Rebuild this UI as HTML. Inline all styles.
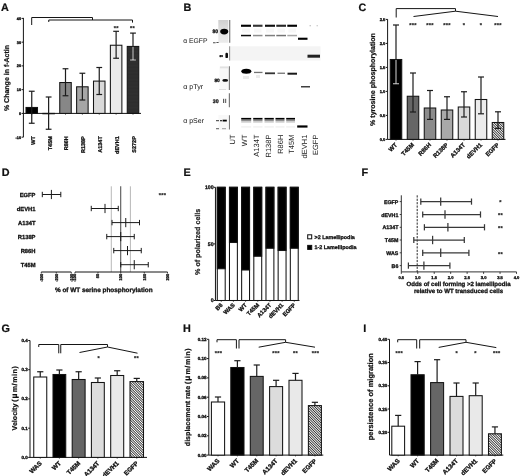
<!DOCTYPE html>
<html><head><meta charset="utf-8"><title>Figure</title>
<style>
html,body{margin:0;padding:0;background:#fff;}
body{width:520px;height:476px;overflow:hidden;font-family:"Liberation Sans",sans-serif;}
svg{display:block;filter:blur(0.35px);}
svg text{font-family:"Liberation Sans",sans-serif;text-rendering:geometricPrecision;}
</style></head><body>
<svg width="520" height="476" viewBox="0 0 520 476">
<defs>
<pattern id="hatch" width="1.77" height="1.77" patternUnits="userSpaceOnUse" patternTransform="rotate(-45)">
<rect width="1.77" height="1.77" fill="#fff"/><rect x="0" y="0" width="0.85" height="1.77" fill="#2c2c2c"/></pattern>
<pattern id="dots" width="1.4" height="1.4" patternUnits="userSpaceOnUse">
<rect width="1.4" height="1.4" fill="#2a2a2a"/><circle cx="0.7" cy="0.7" r="0.22" fill="#777"/></pattern>
<linearGradient id="lg1" x1="0" y1="0" x2="0" y2="1"><stop offset="0" stop-color="#cfcfcf"/><stop offset="0.5" stop-color="#e2e2e2"/><stop offset="1" stop-color="#ececec"/></linearGradient>
<filter id="b1" x="-20%" y="-50%" width="140%" height="200%"><feGaussianBlur stdDeviation="0.5"/></filter>
<filter id="b2" x="-20%" y="-50%" width="140%" height="200%"><feGaussianBlur stdDeviation="0.8"/></filter>
</defs>
<rect width="520" height="476" fill="#fff"/>

<text x="0.90" y="11.10" font-size="10.8" font-weight="bold" text-anchor="start" fill="#111"  stroke="#111" stroke-width="0.22">A</text>
<text x="183.50" y="11.00" font-size="10.8" font-weight="bold" text-anchor="start" fill="#111"  stroke="#111" stroke-width="0.22">B</text>
<text x="358.50" y="10.60" font-size="10.8" font-weight="bold" text-anchor="start" fill="#111"  stroke="#111" stroke-width="0.22">C</text>
<text x="1.80" y="176.40" font-size="10.8" font-weight="bold" text-anchor="start" fill="#111"  stroke="#111" stroke-width="0.22">D</text>
<text x="183.50" y="176.00" font-size="10.8" font-weight="bold" text-anchor="start" fill="#111"  stroke="#111" stroke-width="0.22">E</text>
<text x="361.50" y="176.00" font-size="10.8" font-weight="bold" text-anchor="start" fill="#111"  stroke="#111" stroke-width="0.22">F</text>
<text x="1.60" y="332.20" font-size="10.8" font-weight="bold" text-anchor="start" fill="#111"  stroke="#111" stroke-width="0.22">G</text>
<text x="183.00" y="332.40" font-size="10.8" font-weight="bold" text-anchor="start" fill="#111"  stroke="#111" stroke-width="0.22">H</text>
<text x="363.30" y="332.40" font-size="10.8" font-weight="bold" text-anchor="start" fill="#111"  stroke="#111" stroke-width="0.22">I</text>
<line x1="23.40" y1="17.90" x2="23.40" y2="137.20" stroke="#151515" stroke-width="1.0" />
<line x1="21.60" y1="18.40" x2="23.40" y2="18.40" stroke="#151515" stroke-width="1.0" />
<text x="21.10" y="19.80" font-size="3.8" font-weight="bold" text-anchor="end" fill="#111"  stroke="#111" stroke-width="0.34">40</text>
<line x1="21.60" y1="42.15" x2="23.40" y2="42.15" stroke="#151515" stroke-width="1.0" />
<text x="21.10" y="43.55" font-size="3.8" font-weight="bold" text-anchor="end" fill="#111"  stroke="#111" stroke-width="0.34">30</text>
<line x1="21.60" y1="65.90" x2="23.40" y2="65.90" stroke="#151515" stroke-width="1.0" />
<text x="21.10" y="67.30" font-size="3.8" font-weight="bold" text-anchor="end" fill="#111"  stroke="#111" stroke-width="0.34">20</text>
<line x1="21.60" y1="89.65" x2="23.40" y2="89.65" stroke="#151515" stroke-width="1.0" />
<text x="21.10" y="91.05" font-size="3.8" font-weight="bold" text-anchor="end" fill="#111"  stroke="#111" stroke-width="0.34">10</text>
<line x1="21.60" y1="113.40" x2="23.40" y2="113.40" stroke="#151515" stroke-width="1.0" />
<text x="21.10" y="114.80" font-size="3.8" font-weight="bold" text-anchor="end" fill="#111"  stroke="#111" stroke-width="0.34">0</text>
<line x1="21.60" y1="137.15" x2="23.40" y2="137.15" stroke="#151515" stroke-width="1.0" />
<text x="21.10" y="138.55" font-size="3.8" font-weight="bold" text-anchor="end" fill="#111"  stroke="#111" stroke-width="0.34">-10</text>
<line x1="23.40" y1="113.40" x2="141.00" y2="113.40" stroke="#151515" stroke-width="1.0" />
<rect x="26.00" y="107.46" width="11.50" height="5.94" fill="#000" stroke="#141414" stroke-width="1.05" />
<line x1="31.75" y1="91.25" x2="31.75" y2="123.25" stroke="#1c1c1c" stroke-width="1.2" />
<line x1="28.85" y1="91.25" x2="34.65" y2="91.25" stroke="#1c1c1c" stroke-width="1.2" />
<line x1="28.85" y1="123.25" x2="34.65" y2="123.25" stroke="#1c1c1c" stroke-width="1.2" />
<line x1="31.75" y1="113.40" x2="31.75" y2="114.70" stroke="#151515" stroke-width="0.7" />
<text x="34.75" y="136.20" font-size="5.5" font-weight="bold" text-anchor="end" fill="#111" transform="rotate(-90 34.75 136.2)"  stroke="#111" stroke-width="0.3">WT</text>
<rect x="42.88" y="113.40" width="11.50" height="0.36" fill="#000" stroke="#141414" stroke-width="1.05" />
<line x1="48.62" y1="97.00" x2="48.62" y2="129.25" stroke="#1c1c1c" stroke-width="1.2" />
<line x1="45.73" y1="97.00" x2="51.52" y2="97.00" stroke="#1c1c1c" stroke-width="1.2" />
<line x1="45.73" y1="129.25" x2="51.52" y2="129.25" stroke="#1c1c1c" stroke-width="1.2" />
<line x1="48.62" y1="113.40" x2="48.62" y2="114.70" stroke="#151515" stroke-width="0.7" />
<text x="51.62" y="136.20" font-size="5.5" font-weight="bold" text-anchor="end" fill="#111" transform="rotate(-90 51.625 136.2)"  stroke="#111" stroke-width="0.3">T45M</text>
<rect x="59.75" y="82.53" width="11.50" height="30.88" fill="#878787" stroke="#141414" stroke-width="1.05" />
<line x1="65.50" y1="68.75" x2="65.50" y2="95.75" stroke="#1c1c1c" stroke-width="1.2" />
<line x1="62.60" y1="68.75" x2="68.40" y2="68.75" stroke="#1c1c1c" stroke-width="1.2" />
<line x1="62.60" y1="95.75" x2="68.40" y2="95.75" stroke="#1c1c1c" stroke-width="1.2" />
<line x1="65.50" y1="113.40" x2="65.50" y2="114.70" stroke="#151515" stroke-width="0.7" />
<text x="68.50" y="136.20" font-size="5.5" font-weight="bold" text-anchor="end" fill="#111" transform="rotate(-90 68.5 136.2)"  stroke="#111" stroke-width="0.3">R86H</text>
<rect x="76.62" y="86.80" width="11.50" height="26.60" fill="#a6a6a6" stroke="#141414" stroke-width="1.05" />
<line x1="82.38" y1="73.25" x2="82.38" y2="100.00" stroke="#1c1c1c" stroke-width="1.2" />
<line x1="79.47" y1="73.25" x2="85.28" y2="73.25" stroke="#1c1c1c" stroke-width="1.2" />
<line x1="79.47" y1="100.00" x2="85.28" y2="100.00" stroke="#1c1c1c" stroke-width="1.2" />
<line x1="82.38" y1="113.40" x2="82.38" y2="114.70" stroke="#151515" stroke-width="0.7" />
<text x="85.38" y="136.20" font-size="5.5" font-weight="bold" text-anchor="end" fill="#111" transform="rotate(-90 85.375 136.2)"  stroke="#111" stroke-width="0.3">R138P</text>
<rect x="93.50" y="81.10" width="11.50" height="32.30" fill="#d9d9d9" stroke="#141414" stroke-width="1.05" />
<line x1="99.25" y1="67.50" x2="99.25" y2="94.50" stroke="#1c1c1c" stroke-width="1.2" />
<line x1="96.35" y1="67.50" x2="102.15" y2="67.50" stroke="#1c1c1c" stroke-width="1.2" />
<line x1="96.35" y1="94.50" x2="102.15" y2="94.50" stroke="#1c1c1c" stroke-width="1.2" />
<line x1="99.25" y1="113.40" x2="99.25" y2="114.70" stroke="#151515" stroke-width="0.7" />
<text x="102.25" y="136.20" font-size="5.5" font-weight="bold" text-anchor="end" fill="#111" transform="rotate(-90 102.25 136.2)"  stroke="#111" stroke-width="0.3">A134T</text>
<rect x="110.38" y="45.24" width="11.50" height="68.16" fill="#ebebeb" stroke="#141414" stroke-width="1.05" />
<line x1="116.12" y1="31.30" x2="116.12" y2="58.25" stroke="#1c1c1c" stroke-width="1.2" />
<line x1="113.22" y1="31.30" x2="119.03" y2="31.30" stroke="#1c1c1c" stroke-width="1.2" />
<line x1="113.22" y1="58.25" x2="119.03" y2="58.25" stroke="#1c1c1c" stroke-width="1.2" />
<line x1="116.12" y1="113.40" x2="116.12" y2="114.70" stroke="#151515" stroke-width="0.7" />
<text x="119.12" y="136.20" font-size="5.5" font-weight="bold" text-anchor="end" fill="#111" transform="rotate(-90 119.125 136.2)"  stroke="#111" stroke-width="0.3">dEVH1</text>
<rect x="127.25" y="46.43" width="11.50" height="66.97" fill="url(#dots)" stroke="#141414" stroke-width="1.05" />
<line x1="133.00" y1="33.10" x2="133.00" y2="60.00" stroke="#1c1c1c" stroke-width="1.2" />
<line x1="130.10" y1="33.10" x2="135.90" y2="33.10" stroke="#1c1c1c" stroke-width="1.2" />
<line x1="130.10" y1="60.00" x2="135.90" y2="60.00" stroke="#1c1c1c" stroke-width="1.2" />
<line x1="133.00" y1="46.93" x2="133.00" y2="60.00" stroke="#e8e8e8" stroke-width="0.9" />
<line x1="130.10" y1="60.00" x2="135.90" y2="60.00" stroke="#e8e8e8" stroke-width="0.9" />
<line x1="133.00" y1="113.40" x2="133.00" y2="114.70" stroke="#151515" stroke-width="0.7" />
<text x="136.00" y="136.20" font-size="5.5" font-weight="bold" text-anchor="end" fill="#111" transform="rotate(-90 136.0 136.2)"  stroke="#111" stroke-width="0.3">S272P</text>
<text x="9.20" y="78.00" font-size="7.0" font-weight="bold" text-anchor="middle" fill="#111" transform="rotate(-90 9.2 78)"  stroke="#111" stroke-width="0.22">% Change in f-Actin</text>
<path d="M31.7 25 V17.5 H92.5 V20 M48.75 22 V20 H132.5 V22.6" stroke="#151515" stroke-width="1.0" fill="none" stroke-linejoin="miter"/>
<text x="116.20" y="30.60" font-size="5.6" font-weight="bold" text-anchor="middle" fill="#111" letter-spacing="0.3" stroke="#111" stroke-width="0.15" dy="-0.3">**</text>
<text x="132.60" y="30.60" font-size="5.6" font-weight="bold" text-anchor="middle" fill="#111" letter-spacing="0.3" stroke="#111" stroke-width="0.15" dy="-0.3">**</text>
<text x="183.20" y="43.40" font-size="6.8" font-weight="normal" text-anchor="start" fill="#111" >α EGFP</text>
<text x="183.20" y="89.00" font-size="7.1" font-weight="normal" text-anchor="start" fill="#111" >α pTyr</text>
<text x="183.20" y="122.80" font-size="7.0" font-weight="normal" text-anchor="start" fill="#111" >α pSer</text>
<rect x="218.30" y="20.00" width="10.00" height="22.80" fill="url(#lg1)" stroke="none" stroke-width="0" />
<line x1="229.70" y1="20.00" x2="229.70" y2="42.80" stroke="#7a7a7a" stroke-width="1.2" />
<ellipse cx="224.2" cy="31.6" rx="4.0" ry="2.8" fill="#050505" filter="url(#b1)"/>
<text x="212.50" y="33.00" font-size="5.0" font-weight="bold" text-anchor="start" fill="#111"  stroke="#111" stroke-width="0.3">80</text>
<rect x="213" y="42.4" width="2.6" height="0.8" fill="#222"/><rect x="216.4" y="42.1" width="2.2" height="0.8" fill="#222"/>
<g filter="url(#b1)">
<rect x="241" y="24.7" width="10" height="2.1" fill="#000" opacity="1"/>
<rect x="241" y="34.8" width="10" height="1.5" fill="#000" opacity="0.95"/>
<rect x="242" y="28.5" width="8" height="4" fill="#000" opacity="0.03"/>
<rect x="253" y="24.7" width="9.5" height="2.1" fill="#000" opacity="0.8"/>
<rect x="253" y="34.8" width="9.5" height="1.5" fill="#000" opacity="0.45"/>
<rect x="254" y="28.5" width="7.5" height="4" fill="#000" opacity="0.03"/>
<rect x="265" y="24.7" width="10" height="2.1" fill="#000" opacity="0.95"/>
<rect x="265" y="34.8" width="10" height="1.5" fill="#000" opacity="0.5"/>
<rect x="266" y="28.5" width="8" height="4" fill="#000" opacity="0.03"/>
<rect x="276.3" y="24.7" width="9.699999999999989" height="2.1" fill="#000" opacity="0.85"/>
<rect x="276.3" y="34.8" width="9.699999999999989" height="1.5" fill="#000" opacity="0.55"/>
<rect x="277.3" y="28.5" width="7.699999999999989" height="4" fill="#000" opacity="0.03"/>
<rect x="287.3" y="24.7" width="9.699999999999989" height="2.1" fill="#000" opacity="1"/>
<rect x="287.3" y="34.8" width="9.699999999999989" height="1.5" fill="#000" opacity="0.35"/>
<rect x="288.3" y="28.5" width="7.699999999999989" height="4" fill="#000" opacity="0.03"/>
<rect x="298" y="37.7" width="9.5" height="2.1" fill="#000"/>
<rect x="309.5" y="25.4" width="1.5" height="0.8" fill="#000" opacity="0.35"/><rect x="316.5" y="25.4" width="1.5" height="0.8" fill="#000" opacity="0.3"/>
</g>
<rect x="230.00" y="46.30" width="90.50" height="14.20" fill="#f4f4f4" stroke="none" stroke-width="0" />
<line x1="229.60" y1="46.30" x2="229.60" y2="60.50" stroke="#999" stroke-width="1.1" />
<g filter="url(#b1)"><rect x="225.4" y="52.7" width="2.6" height="5.4" rx="1.2" fill="#111"/><rect x="307.5" y="54.7" width="12.5" height="3" fill="#222"/></g>
<text x="219.60" y="56.60" font-size="2.8" font-weight="bold" text-anchor="start" fill="#111"  stroke="#111" stroke-width="0.34">30</text>
<rect x="219.50" y="66.30" width="9.00" height="23.70" fill="#f8f8f8" stroke="none" stroke-width="0" />
<rect x="220.00" y="66.50" width="8.00" height="1.80" fill="#e2e2e2" stroke="none" stroke-width="0" />
<rect x="219.00" y="89.00" width="7.00" height="0.60" fill="#ccc" stroke="none" stroke-width="0" />
<line x1="229.40" y1="66.30" x2="229.40" y2="90.00" stroke="#7a7a7a" stroke-width="1.2" />
<text x="214.40" y="82.00" font-size="4.8" font-weight="bold" text-anchor="start" fill="#111"  stroke="#111" stroke-width="0.3">80</text>
<g filter="url(#b1)">
<ellipse cx="225.2" cy="80.4" rx="2.9" ry="1.4" fill="#0a0a0a"/>
<ellipse cx="246.3" cy="71.3" rx="5" ry="2.5" fill="#000"/>
<rect x="254" y="71.8" width="8.5" height="1.3" fill="#000" opacity="0.55"/>
<rect x="265" y="72.4" width="10" height="1.8" fill="#000" opacity="0.8"/>
<rect x="277.5" y="72.6" width="7.5" height="1.3" fill="#000" opacity="0.55"/>
<rect x="287.5" y="72.7" width="9.5" height="2" fill="#000" opacity="0.9"/>
<rect x="301" y="86" width="9" height="1.5" fill="#000" opacity="0.75"/>
<rect x="243" y="76" width="6" height="3" fill="#000" opacity="0.08"/><rect x="256" y="75" width="4" height="3" fill="#000" opacity="0.08"/>
</g>
<line x1="229.40" y1="93.20" x2="229.40" y2="107.30" stroke="#7a7a7a" stroke-width="1.2" />
<text x="212.80" y="102.80" font-size="5.2" font-weight="bold" text-anchor="start" fill="#111"  stroke="#111" stroke-width="0.3">30</text>
<g filter="url(#b1)"><rect x="223" y="98.8" width="1.2" height="4.2" fill="#333" opacity="0.8"/><rect x="225" y="98.8" width="1.2" height="4.2" fill="#333" opacity="0.7"/></g>
<line x1="229.40" y1="115.20" x2="229.40" y2="129.50" stroke="#7a7a7a" stroke-width="1.2" />
<rect x="218.50" y="115.00" width="10.00" height="15.00" fill="#f8f8f8" stroke="none" stroke-width="0" />
<g filter="url(#b1)">
<rect x="222.6" y="119.7" width="4.2" height="1.8" fill="#000"/><rect x="220.2" y="120" width="1.6" height="1.3" fill="#111"/><rect x="216" y="120.2" width="3" height="1" fill="#333"/>
<rect x="216" y="128.3" width="3" height="0.9" fill="#444"/><rect x="222" y="128.2" width="4" height="1" fill="#999"/>
<rect x="241.2" y="117.9" width="10.0" height="1.7" fill="#000"/>
<rect x="241.2" y="120.2" width="10.0" height="1.1" fill="#000" opacity="0.55"/>
<rect x="241.2" y="121.8" width="10.0" height="0.9" fill="#000" opacity="0.2"/>
<rect x="241.2" y="126.3" width="10.0" height="1.2" fill="#000" opacity="0.07"/>
<rect x="253.2" y="117.9" width="9.300000000000011" height="1.7" fill="#000"/>
<rect x="253.2" y="120.2" width="9.300000000000011" height="1.1" fill="#000" opacity="0.55"/>
<rect x="253.2" y="121.8" width="9.300000000000011" height="0.9" fill="#000" opacity="0.2"/>
<rect x="253.2" y="126.3" width="9.300000000000011" height="1.2" fill="#000" opacity="0.07"/>
<rect x="264.5" y="117.9" width="9.300000000000011" height="1.7" fill="#000"/>
<rect x="264.5" y="120.2" width="9.300000000000011" height="1.1" fill="#000" opacity="0.55"/>
<rect x="264.5" y="121.8" width="9.300000000000011" height="0.9" fill="#000" opacity="0.2"/>
<rect x="264.5" y="126.3" width="9.300000000000011" height="1.2" fill="#000" opacity="0.07"/>
<rect x="275.5" y="117.9" width="9.0" height="1.7" fill="#000"/>
<rect x="275.5" y="120.2" width="9.0" height="1.1" fill="#000" opacity="0.55"/>
<rect x="275.5" y="121.8" width="9.0" height="0.9" fill="#000" opacity="0.2"/>
<rect x="275.5" y="126.3" width="9.0" height="1.2" fill="#000" opacity="0.07"/>
<rect x="286.2" y="117.9" width="8.800000000000011" height="1.7" fill="#000"/>
<rect x="286.2" y="120.2" width="8.800000000000011" height="1.1" fill="#000" opacity="0.55"/>
<rect x="286.2" y="121.8" width="8.800000000000011" height="0.9" fill="#000" opacity="0.2"/>
<rect x="286.2" y="126.3" width="8.800000000000011" height="1.2" fill="#000" opacity="0.07"/>
<rect x="297.2" y="125.4" width="10.3" height="2.2" fill="#000"/>
</g>
<text x="235.40" y="134.60" font-size="7.5" font-weight="normal" text-anchor="end" fill="#222" transform="rotate(-90 235.39999999999998 134.6)" >UT</text>
<text x="247.00" y="134.60" font-size="7.5" font-weight="normal" text-anchor="end" fill="#222" transform="rotate(-90 247.0 134.6)" >WT</text>
<text x="259.00" y="134.60" font-size="7.5" font-weight="normal" text-anchor="end" fill="#222" transform="rotate(-90 259.0 134.6)" >A134T</text>
<text x="271.00" y="134.60" font-size="7.5" font-weight="normal" text-anchor="end" fill="#222" transform="rotate(-90 271.0 134.6)" >R138P</text>
<text x="282.70" y="134.60" font-size="7.5" font-weight="normal" text-anchor="end" fill="#222" transform="rotate(-90 282.7 134.6)" >R86H</text>
<text x="294.20" y="134.60" font-size="7.5" font-weight="normal" text-anchor="end" fill="#222" transform="rotate(-90 294.2 134.6)" >T45M</text>
<text x="306.70" y="134.60" font-size="7.5" font-weight="normal" text-anchor="end" fill="#222" transform="rotate(-90 306.7 134.6)" >dEVH1</text>
<text x="318.20" y="134.60" font-size="7.5" font-weight="normal" text-anchor="end" fill="#222" transform="rotate(-90 318.2 134.6)" >EGFP</text>
<line x1="387.60" y1="19.20" x2="387.60" y2="139.40" stroke="#151515" stroke-width="1.0" />
<line x1="385.80" y1="19.40" x2="387.60" y2="19.40" stroke="#151515" stroke-width="1.0" />
<text x="385.40" y="20.90" font-size="4.1" font-weight="bold" text-anchor="end" fill="#111"  stroke="#111" stroke-width="0.34">2.5</text>
<line x1="385.80" y1="43.40" x2="387.60" y2="43.40" stroke="#151515" stroke-width="1.0" />
<text x="385.40" y="44.90" font-size="4.1" font-weight="bold" text-anchor="end" fill="#111"  stroke="#111" stroke-width="0.34">2.0</text>
<line x1="385.80" y1="67.40" x2="387.60" y2="67.40" stroke="#151515" stroke-width="1.0" />
<text x="385.40" y="68.90" font-size="4.1" font-weight="bold" text-anchor="end" fill="#111"  stroke="#111" stroke-width="0.34">1.5</text>
<line x1="385.80" y1="91.40" x2="387.60" y2="91.40" stroke="#151515" stroke-width="1.0" />
<text x="385.40" y="92.90" font-size="4.1" font-weight="bold" text-anchor="end" fill="#111"  stroke="#111" stroke-width="0.34">1.0</text>
<line x1="385.80" y1="115.40" x2="387.60" y2="115.40" stroke="#151515" stroke-width="1.0" />
<text x="385.40" y="116.90" font-size="4.1" font-weight="bold" text-anchor="end" fill="#111"  stroke="#111" stroke-width="0.34">0.5</text>
<line x1="385.80" y1="139.40" x2="387.60" y2="139.40" stroke="#151515" stroke-width="1.0" />
<text x="385.40" y="140.90" font-size="4.1" font-weight="bold" text-anchor="end" fill="#111"  stroke="#111" stroke-width="0.34">0.0</text>
<line x1="387.60" y1="139.40" x2="505.50" y2="139.40" stroke="#151515" stroke-width="1.0" />
<rect x="390.25" y="59.50" width="11.50" height="79.90" fill="#000" stroke="#141414" stroke-width="1.05" />
<line x1="396.00" y1="25.00" x2="396.00" y2="83.75" stroke="#1c1c1c" stroke-width="1.2" />
<line x1="393.00" y1="25.00" x2="399.00" y2="25.00" stroke="#1c1c1c" stroke-width="1.2" />
<line x1="393.00" y1="83.75" x2="399.00" y2="83.75" stroke="#1c1c1c" stroke-width="1.2" />
<line x1="396.00" y1="60.00" x2="396.00" y2="83.75" stroke="#ddd" stroke-width="0.9" />
<line x1="393.00" y1="83.75" x2="399.00" y2="83.75" stroke="#ddd" stroke-width="0.9" />
<line x1="396.00" y1="139.40" x2="396.00" y2="140.70" stroke="#151515" stroke-width="0.7" />
<text x="397.50" y="145.30" font-size="6.0" font-weight="bold" text-anchor="end" fill="#111" transform="rotate(-45 397.5 145.3)"  stroke="#111" stroke-width="0.3">WT</text>
<rect x="407.25" y="96.25" width="11.50" height="43.15" fill="#666" stroke="#141414" stroke-width="1.05" />
<line x1="413.00" y1="73.00" x2="413.00" y2="112.00" stroke="#1c1c1c" stroke-width="1.2" />
<line x1="410.00" y1="73.00" x2="416.00" y2="73.00" stroke="#1c1c1c" stroke-width="1.2" />
<line x1="410.00" y1="112.00" x2="416.00" y2="112.00" stroke="#1c1c1c" stroke-width="1.2" />
<line x1="413.00" y1="139.40" x2="413.00" y2="140.70" stroke="#151515" stroke-width="0.7" />
<text x="414.50" y="145.30" font-size="6.0" font-weight="bold" text-anchor="end" fill="#111" transform="rotate(-45 414.5 145.3)"  stroke="#111" stroke-width="0.3">T45M</text>
<rect x="424.25" y="108.00" width="11.50" height="31.40" fill="#8c8c8c" stroke="#141414" stroke-width="1.05" />
<line x1="430.00" y1="90.50" x2="430.00" y2="119.40" stroke="#1c1c1c" stroke-width="1.2" />
<line x1="427.00" y1="90.50" x2="433.00" y2="90.50" stroke="#1c1c1c" stroke-width="1.2" />
<line x1="427.00" y1="119.40" x2="433.00" y2="119.40" stroke="#1c1c1c" stroke-width="1.2" />
<line x1="430.00" y1="139.40" x2="430.00" y2="140.70" stroke="#151515" stroke-width="0.7" />
<text x="431.50" y="145.30" font-size="6.0" font-weight="bold" text-anchor="end" fill="#111" transform="rotate(-45 431.5 145.3)"  stroke="#111" stroke-width="0.3">R86H</text>
<rect x="441.25" y="110.00" width="11.50" height="29.40" fill="#a9a9a9" stroke="#141414" stroke-width="1.05" />
<line x1="447.00" y1="96.75" x2="447.00" y2="119.40" stroke="#1c1c1c" stroke-width="1.2" />
<line x1="444.00" y1="96.75" x2="450.00" y2="96.75" stroke="#1c1c1c" stroke-width="1.2" />
<line x1="444.00" y1="119.40" x2="450.00" y2="119.40" stroke="#1c1c1c" stroke-width="1.2" />
<line x1="447.00" y1="139.40" x2="447.00" y2="140.70" stroke="#151515" stroke-width="0.7" />
<text x="448.50" y="145.30" font-size="6.0" font-weight="bold" text-anchor="end" fill="#111" transform="rotate(-45 448.5 145.3)"  stroke="#111" stroke-width="0.3">R138P</text>
<rect x="458.25" y="107.00" width="11.50" height="32.40" fill="#d9d9d9" stroke="#141414" stroke-width="1.05" />
<line x1="464.00" y1="91.75" x2="464.00" y2="117.00" stroke="#1c1c1c" stroke-width="1.2" />
<line x1="461.00" y1="91.75" x2="467.00" y2="91.75" stroke="#1c1c1c" stroke-width="1.2" />
<line x1="461.00" y1="117.00" x2="467.00" y2="117.00" stroke="#1c1c1c" stroke-width="1.2" />
<line x1="464.00" y1="139.40" x2="464.00" y2="140.70" stroke="#151515" stroke-width="0.7" />
<text x="465.50" y="145.30" font-size="6.0" font-weight="bold" text-anchor="end" fill="#111" transform="rotate(-45 465.5 145.3)"  stroke="#111" stroke-width="0.3">A134T</text>
<rect x="475.25" y="99.50" width="11.50" height="39.90" fill="#ececec" stroke="#141414" stroke-width="1.05" />
<line x1="481.00" y1="77.00" x2="481.00" y2="113.80" stroke="#1c1c1c" stroke-width="1.2" />
<line x1="478.00" y1="77.00" x2="484.00" y2="77.00" stroke="#1c1c1c" stroke-width="1.2" />
<line x1="478.00" y1="113.80" x2="484.00" y2="113.80" stroke="#1c1c1c" stroke-width="1.2" />
<line x1="481.00" y1="139.40" x2="481.00" y2="140.70" stroke="#151515" stroke-width="0.7" />
<text x="482.50" y="145.30" font-size="6.0" font-weight="bold" text-anchor="end" fill="#111" transform="rotate(-45 482.5 145.3)"  stroke="#111" stroke-width="0.3">dEVH1</text>
<rect x="492.25" y="122.50" width="11.50" height="16.90" fill="url(#hatch)" stroke="#141414" stroke-width="1.05" />
<line x1="498.00" y1="111.80" x2="498.00" y2="128.40" stroke="#1c1c1c" stroke-width="1.2" />
<line x1="495.00" y1="111.80" x2="501.00" y2="111.80" stroke="#1c1c1c" stroke-width="1.2" />
<line x1="495.00" y1="128.40" x2="501.00" y2="128.40" stroke="#1c1c1c" stroke-width="1.2" />
<line x1="498.00" y1="139.40" x2="498.00" y2="140.70" stroke="#151515" stroke-width="0.7" />
<text x="499.50" y="145.30" font-size="6.0" font-weight="bold" text-anchor="end" fill="#111" transform="rotate(-45 499.5 145.3)"  stroke="#111" stroke-width="0.3">EGFP</text>
<text x="374.60" y="79.50" font-size="7.05" font-weight="bold" text-anchor="middle" fill="#111" transform="rotate(-90 374.6 79.5)"  stroke="#111" stroke-width="0.22">% tyrosine phosphorylation</text>
<path d="M396.2 17.5 V8.6 H455.5 V11.2 M413.5 16.5 L455.5 11.2 L498 16.5" stroke="#151515" stroke-width="1.0" fill="none" stroke-linejoin="miter"/>
<text x="413.00" y="27.00" font-size="5.6" font-weight="bold" text-anchor="middle" fill="#111" letter-spacing="0.3" stroke="#111" stroke-width="0.15" dy="-0.3">***</text>
<text x="430.00" y="27.00" font-size="5.6" font-weight="bold" text-anchor="middle" fill="#111" letter-spacing="0.3" stroke="#111" stroke-width="0.15" dy="-0.3">***</text>
<text x="447.00" y="27.00" font-size="5.6" font-weight="bold" text-anchor="middle" fill="#111" letter-spacing="0.3" stroke="#111" stroke-width="0.15" dy="-0.3">***</text>
<text x="464.00" y="27.00" font-size="5.6" font-weight="bold" text-anchor="middle" fill="#111" letter-spacing="0.3" stroke="#111" stroke-width="0.15" dy="-0.3">*</text>
<text x="481.00" y="27.00" font-size="5.6" font-weight="bold" text-anchor="middle" fill="#111" letter-spacing="0.3" stroke="#111" stroke-width="0.15" dy="-0.3">*</text>
<text x="498.00" y="27.00" font-size="5.6" font-weight="bold" text-anchor="middle" fill="#111" letter-spacing="0.3" stroke="#111" stroke-width="0.15" dy="-0.3">***</text>
<text x="35.50" y="196.60" font-size="5.8" font-weight="bold" text-anchor="end" fill="#111"  stroke="#111" stroke-width="0.3">EGFP</text>
<text x="35.50" y="210.60" font-size="5.8" font-weight="bold" text-anchor="end" fill="#111"  stroke="#111" stroke-width="0.3">dEVH1</text>
<text x="35.50" y="224.70" font-size="5.8" font-weight="bold" text-anchor="end" fill="#111"  stroke="#111" stroke-width="0.3">A134T</text>
<text x="35.50" y="238.70" font-size="5.8" font-weight="bold" text-anchor="end" fill="#111"  stroke="#111" stroke-width="0.3">R138P</text>
<text x="35.50" y="252.70" font-size="5.8" font-weight="bold" text-anchor="end" fill="#111"  stroke="#111" stroke-width="0.3">R86H</text>
<text x="35.50" y="266.80" font-size="5.8" font-weight="bold" text-anchor="end" fill="#111"  stroke="#111" stroke-width="0.3">T45M</text>
<line x1="111.30" y1="186.30" x2="111.30" y2="272.00" stroke="#999" stroke-width="0.7" />
<line x1="130.40" y1="186.30" x2="130.40" y2="272.00" stroke="#999" stroke-width="0.7" />
<line x1="120.70" y1="186.30" x2="120.70" y2="272.00" stroke="#555" stroke-width="1.1" />
<line x1="42.30" y1="194.50" x2="60.80" y2="194.50" stroke="#1a1a1a" stroke-width="1.0" />
<line x1="42.30" y1="191.80" x2="42.30" y2="197.20" stroke="#1a1a1a" stroke-width="1.0" />
<line x1="60.80" y1="191.80" x2="60.80" y2="197.20" stroke="#1a1a1a" stroke-width="1.0" />
<line x1="51.40" y1="189.90" x2="51.40" y2="199.10" stroke="#1a1a1a" stroke-width="1.0" />
<line x1="91.25" y1="208.50" x2="118.25" y2="208.50" stroke="#1a1a1a" stroke-width="1.0" />
<line x1="91.25" y1="205.80" x2="91.25" y2="211.20" stroke="#1a1a1a" stroke-width="1.0" />
<line x1="118.25" y1="205.80" x2="118.25" y2="211.20" stroke="#1a1a1a" stroke-width="1.0" />
<line x1="105.00" y1="203.90" x2="105.00" y2="213.10" stroke="#1a1a1a" stroke-width="1.0" />
<line x1="112.00" y1="222.60" x2="139.50" y2="222.60" stroke="#1a1a1a" stroke-width="1.0" />
<line x1="112.00" y1="219.90" x2="112.00" y2="225.30" stroke="#1a1a1a" stroke-width="1.0" />
<line x1="139.50" y1="219.90" x2="139.50" y2="225.30" stroke="#1a1a1a" stroke-width="1.0" />
<line x1="125.75" y1="218.00" x2="125.75" y2="227.20" stroke="#1a1a1a" stroke-width="1.0" />
<line x1="106.75" y1="236.60" x2="134.25" y2="236.60" stroke="#1a1a1a" stroke-width="1.0" />
<line x1="106.75" y1="233.90" x2="106.75" y2="239.30" stroke="#1a1a1a" stroke-width="1.0" />
<line x1="134.25" y1="233.90" x2="134.25" y2="239.30" stroke="#1a1a1a" stroke-width="1.0" />
<line x1="120.75" y1="232.00" x2="120.75" y2="241.20" stroke="#1a1a1a" stroke-width="1.0" />
<line x1="113.75" y1="250.60" x2="141.25" y2="250.60" stroke="#1a1a1a" stroke-width="1.0" />
<line x1="113.75" y1="247.90" x2="113.75" y2="253.30" stroke="#1a1a1a" stroke-width="1.0" />
<line x1="141.25" y1="247.90" x2="141.25" y2="253.30" stroke="#1a1a1a" stroke-width="1.0" />
<line x1="127.50" y1="246.00" x2="127.50" y2="255.20" stroke="#1a1a1a" stroke-width="1.0" />
<line x1="120.75" y1="264.70" x2="148.25" y2="264.70" stroke="#1a1a1a" stroke-width="1.0" />
<line x1="120.75" y1="262.00" x2="120.75" y2="267.40" stroke="#1a1a1a" stroke-width="1.0" />
<line x1="148.25" y1="262.00" x2="148.25" y2="267.40" stroke="#1a1a1a" stroke-width="1.0" />
<line x1="134.25" y1="260.10" x2="134.25" y2="269.30" stroke="#1a1a1a" stroke-width="1.0" />
<line x1="41.25" y1="272.00" x2="71.25" y2="272.00" stroke="#151515" stroke-width="1.0" />
<line x1="75.00" y1="272.00" x2="167.50" y2="272.00" stroke="#151515" stroke-width="1.0" />
<line x1="41.25" y1="272.00" x2="41.25" y2="273.40" stroke="#151515" stroke-width="0.8" />
<text x="42.70" y="273.70" font-size="4.0" font-weight="bold" text-anchor="end" fill="#111" transform="rotate(-90 42.7 273.7)"  stroke="#111" stroke-width="0.34">-300</text>
<line x1="56.25" y1="272.00" x2="56.25" y2="273.40" stroke="#151515" stroke-width="0.8" />
<text x="57.70" y="273.70" font-size="4.0" font-weight="bold" text-anchor="end" fill="#111" transform="rotate(-90 57.7 273.7)"  stroke="#111" stroke-width="0.34">-200</text>
<line x1="71.25" y1="272.00" x2="71.25" y2="273.40" stroke="#151515" stroke-width="0.8" />
<text x="72.70" y="273.70" font-size="4.0" font-weight="bold" text-anchor="end" fill="#111" transform="rotate(-90 72.7 273.7)"  stroke="#111" stroke-width="0.34">-100</text>
<line x1="75.00" y1="272.00" x2="75.00" y2="273.40" stroke="#151515" stroke-width="0.8" />
<text x="76.45" y="273.70" font-size="4.0" font-weight="bold" text-anchor="end" fill="#111" transform="rotate(-90 76.45 273.7)"  stroke="#111" stroke-width="0.34">-100</text>
<line x1="98.00" y1="272.00" x2="98.00" y2="273.40" stroke="#151515" stroke-width="0.8" />
<text x="99.45" y="273.70" font-size="4.0" font-weight="bold" text-anchor="end" fill="#111" transform="rotate(-90 99.45 273.7)"  stroke="#111" stroke-width="0.34">50</text>
<line x1="120.75" y1="272.00" x2="120.75" y2="273.40" stroke="#151515" stroke-width="0.8" />
<text x="122.20" y="273.70" font-size="4.0" font-weight="bold" text-anchor="end" fill="#111" transform="rotate(-90 122.2 273.7)"  stroke="#111" stroke-width="0.34">100</text>
<line x1="144.25" y1="272.00" x2="144.25" y2="273.40" stroke="#151515" stroke-width="0.8" />
<text x="145.70" y="273.70" font-size="4.0" font-weight="bold" text-anchor="end" fill="#111" transform="rotate(-90 145.7 273.7)"  stroke="#111" stroke-width="0.34">150</text>
<line x1="167.50" y1="272.00" x2="167.50" y2="273.40" stroke="#151515" stroke-width="0.8" />
<text x="168.95" y="273.70" font-size="4.0" font-weight="bold" text-anchor="end" fill="#111" transform="rotate(-90 168.95 273.7)"  stroke="#111" stroke-width="0.34">200</text>
<text x="103.80" y="291.60" font-size="6.4" font-weight="bold" text-anchor="middle" fill="#111"  stroke="#111" stroke-width="0.3">% of WT serine phosphorylation</text>
<text x="162.50" y="197.60" font-size="5.6" font-weight="bold" text-anchor="middle" fill="#111" letter-spacing="0.3" stroke="#111" stroke-width="0.15" dy="-0.3">***</text>
<line x1="215.45" y1="187.30" x2="215.45" y2="300.50" stroke="#151515" stroke-width="1.0" />
<line x1="213.65" y1="187.30" x2="215.45" y2="187.30" stroke="#151515" stroke-width="1.0" />
<text x="213.55" y="189.20" font-size="5.2" font-weight="bold" text-anchor="end" fill="#111"  stroke="#111" stroke-width="0.3">100</text>
<line x1="213.65" y1="243.90" x2="215.45" y2="243.90" stroke="#151515" stroke-width="1.0" />
<text x="213.55" y="245.80" font-size="5.2" font-weight="bold" text-anchor="end" fill="#111"  stroke="#111" stroke-width="0.3">50</text>
<line x1="213.65" y1="300.50" x2="215.45" y2="300.50" stroke="#151515" stroke-width="1.0" />
<text x="213.55" y="302.40" font-size="5.2" font-weight="bold" text-anchor="end" fill="#111"  stroke="#111" stroke-width="0.3">0</text>
<line x1="215.45" y1="300.50" x2="299.50" y2="300.50" stroke="#151515" stroke-width="1.0" />
<rect x="217.30" y="187.30" width="7.90" height="113.20" fill="#fff" stroke="#141414" stroke-width="1.05" />
<rect x="217.30" y="187.30" width="7.90" height="81.45" fill="#000" stroke="#141414" stroke-width="1.05" />
<line x1="221.25" y1="300.50" x2="221.25" y2="301.80" stroke="#151515" stroke-width="0.7" />
<text x="223.05" y="305.50" font-size="5.8" font-weight="bold" text-anchor="end" fill="#111" transform="rotate(-45 223.05 305.5)"  stroke="#111" stroke-width="0.3">B6</text>
<rect x="229.47" y="187.30" width="7.90" height="113.20" fill="#fff" stroke="#141414" stroke-width="1.05" />
<rect x="229.47" y="187.30" width="7.90" height="55.20" fill="#000" stroke="#141414" stroke-width="1.05" />
<line x1="233.42" y1="300.50" x2="233.42" y2="301.80" stroke="#151515" stroke-width="0.7" />
<text x="235.22" y="305.50" font-size="5.8" font-weight="bold" text-anchor="end" fill="#111" transform="rotate(-45 235.22000000000003 305.5)"  stroke="#111" stroke-width="0.3">WAS</text>
<rect x="241.64" y="187.30" width="7.90" height="113.20" fill="#fff" stroke="#141414" stroke-width="1.05" />
<rect x="241.64" y="187.30" width="7.90" height="82.70" fill="#000" stroke="#141414" stroke-width="1.05" />
<line x1="245.59" y1="300.50" x2="245.59" y2="301.80" stroke="#151515" stroke-width="0.7" />
<text x="247.39" y="305.50" font-size="5.8" font-weight="bold" text-anchor="end" fill="#111" transform="rotate(-45 247.39000000000004 305.5)"  stroke="#111" stroke-width="0.3">WT</text>
<rect x="253.81" y="187.30" width="7.90" height="113.20" fill="#fff" stroke="#141414" stroke-width="1.05" />
<rect x="253.81" y="187.30" width="7.90" height="68.95" fill="#000" stroke="#141414" stroke-width="1.05" />
<line x1="257.76" y1="300.50" x2="257.76" y2="301.80" stroke="#151515" stroke-width="0.7" />
<text x="259.56" y="305.50" font-size="5.8" font-weight="bold" text-anchor="end" fill="#111" transform="rotate(-45 259.56 305.5)"  stroke="#111" stroke-width="0.3">T45M</text>
<rect x="265.98" y="187.30" width="7.90" height="113.20" fill="#fff" stroke="#141414" stroke-width="1.05" />
<rect x="265.98" y="187.30" width="7.90" height="60.95" fill="#000" stroke="#141414" stroke-width="1.05" />
<line x1="269.93" y1="300.50" x2="269.93" y2="301.80" stroke="#151515" stroke-width="0.7" />
<text x="271.73" y="305.50" font-size="5.8" font-weight="bold" text-anchor="end" fill="#111" transform="rotate(-45 271.73 305.5)"  stroke="#111" stroke-width="0.3">A134T</text>
<rect x="278.15" y="187.30" width="7.90" height="113.20" fill="#fff" stroke="#141414" stroke-width="1.05" />
<rect x="278.15" y="187.30" width="7.90" height="63.20" fill="#000" stroke="#141414" stroke-width="1.05" />
<line x1="282.10" y1="300.50" x2="282.10" y2="301.80" stroke="#151515" stroke-width="0.7" />
<text x="283.90" y="305.50" font-size="5.8" font-weight="bold" text-anchor="end" fill="#111" transform="rotate(-45 283.90000000000003 305.5)"  stroke="#111" stroke-width="0.3">dEVH1</text>
<rect x="290.32" y="187.30" width="7.90" height="113.20" fill="#fff" stroke="#141414" stroke-width="1.05" />
<rect x="290.32" y="187.30" width="7.90" height="60.95" fill="#000" stroke="#141414" stroke-width="1.05" />
<line x1="294.27" y1="300.50" x2="294.27" y2="301.80" stroke="#151515" stroke-width="0.7" />
<text x="296.07" y="305.50" font-size="5.8" font-weight="bold" text-anchor="end" fill="#111" transform="rotate(-45 296.07 305.5)"  stroke="#111" stroke-width="0.3">EGFP</text>
<text x="200.20" y="241.80" font-size="7.15" font-weight="bold" text-anchor="middle" fill="#222" transform="rotate(-90 200.2 241.8)"  stroke="#222" stroke-width="0.22">% of polarized cells</text>
<rect x="307.70" y="234.80" width="4.00" height="4.00" fill="#fff" stroke="#141414" stroke-width="1.05" />
<rect x="307.70" y="245.40" width="4.00" height="4.00" fill="#000" stroke="#141414" stroke-width="1.05" />
<text x="314.60" y="238.50" font-size="5.35" font-weight="bold" text-anchor="start" fill="#111"  stroke="#111" stroke-width="0.3">&gt;2 Lamellipodia</text>
<text x="314.60" y="248.80" font-size="5.35" font-weight="bold" text-anchor="start" fill="#111"  stroke="#111" stroke-width="0.3">1-2 Lamellipodia</text>
<line x1="401.30" y1="195.30" x2="401.30" y2="271.90" stroke="#333" stroke-width="1.0" />
<line x1="401.30" y1="271.90" x2="516.50" y2="271.90" stroke="#333" stroke-width="1.0" />
<text x="398.40" y="203.60" font-size="5.3" font-weight="bold" text-anchor="end" fill="#111"  stroke="#111" stroke-width="0.3">EGFP</text>
<line x1="399.70" y1="201.60" x2="401.30" y2="201.60" stroke="#151515" stroke-width="0.8" />
<text x="398.40" y="216.50" font-size="5.3" font-weight="bold" text-anchor="end" fill="#111"  stroke="#111" stroke-width="0.3">dEVH1</text>
<line x1="399.70" y1="214.50" x2="401.30" y2="214.50" stroke="#151515" stroke-width="0.8" />
<text x="398.40" y="229.30" font-size="5.3" font-weight="bold" text-anchor="end" fill="#111"  stroke="#111" stroke-width="0.3">A134T</text>
<line x1="399.70" y1="227.30" x2="401.30" y2="227.30" stroke="#151515" stroke-width="0.8" />
<text x="398.40" y="242.00" font-size="5.3" font-weight="bold" text-anchor="end" fill="#111"  stroke="#111" stroke-width="0.3">T45M</text>
<line x1="399.70" y1="240.00" x2="401.30" y2="240.00" stroke="#151515" stroke-width="0.8" />
<text x="398.40" y="254.80" font-size="5.3" font-weight="bold" text-anchor="end" fill="#111"  stroke="#111" stroke-width="0.3">WAS</text>
<line x1="399.70" y1="252.80" x2="401.30" y2="252.80" stroke="#151515" stroke-width="0.8" />
<text x="398.40" y="267.60" font-size="5.3" font-weight="bold" text-anchor="end" fill="#111"  stroke="#111" stroke-width="0.3">B6</text>
<line x1="399.70" y1="265.60" x2="401.30" y2="265.60" stroke="#151515" stroke-width="0.8" />
<line x1="401.30" y1="271.90" x2="401.30" y2="273.90" stroke="#151515" stroke-width="0.8" />
<text x="401.30" y="279.10" font-size="4.1" font-weight="bold" text-anchor="middle" fill="#111"  stroke="#111" stroke-width="0.34">0.5</text>
<line x1="417.76" y1="271.90" x2="417.76" y2="273.90" stroke="#151515" stroke-width="0.8" />
<text x="417.76" y="279.10" font-size="4.1" font-weight="bold" text-anchor="middle" fill="#111"  stroke="#111" stroke-width="0.34">1.0</text>
<line x1="434.22" y1="271.90" x2="434.22" y2="273.90" stroke="#151515" stroke-width="0.8" />
<text x="434.22" y="279.10" font-size="4.1" font-weight="bold" text-anchor="middle" fill="#111"  stroke="#111" stroke-width="0.34">1.5</text>
<line x1="450.68" y1="271.90" x2="450.68" y2="273.90" stroke="#151515" stroke-width="0.8" />
<text x="450.68" y="279.10" font-size="4.1" font-weight="bold" text-anchor="middle" fill="#111"  stroke="#111" stroke-width="0.34">2.0</text>
<line x1="467.14" y1="271.90" x2="467.14" y2="273.90" stroke="#151515" stroke-width="0.8" />
<text x="467.14" y="279.10" font-size="4.1" font-weight="bold" text-anchor="middle" fill="#111"  stroke="#111" stroke-width="0.34">2.5</text>
<line x1="483.60" y1="271.90" x2="483.60" y2="273.90" stroke="#151515" stroke-width="0.8" />
<text x="483.60" y="279.10" font-size="4.1" font-weight="bold" text-anchor="middle" fill="#111"  stroke="#111" stroke-width="0.34">3.0</text>
<line x1="500.06" y1="271.90" x2="500.06" y2="273.90" stroke="#151515" stroke-width="0.8" />
<text x="500.06" y="279.10" font-size="4.1" font-weight="bold" text-anchor="middle" fill="#111"  stroke="#111" stroke-width="0.34">3.5</text>
<line x1="516.52" y1="271.90" x2="516.52" y2="273.90" stroke="#151515" stroke-width="0.8" />
<text x="516.52" y="279.10" font-size="4.1" font-weight="bold" text-anchor="middle" fill="#111"  stroke="#111" stroke-width="0.34">4.0</text>
<line x1="417.20" y1="195.30" x2="417.20" y2="271.90" stroke="#111" stroke-width="0.9" stroke-dasharray="2.2 1.2"/>
<line x1="420.80" y1="201.60" x2="471.50" y2="201.60" stroke="#383838" stroke-width="1.25" />
<line x1="420.80" y1="198.50" x2="420.80" y2="204.70" stroke="#383838" stroke-width="1.25" />
<line x1="471.50" y1="198.50" x2="471.50" y2="204.70" stroke="#383838" stroke-width="1.25" />
<line x1="440.70" y1="197.40" x2="440.70" y2="205.80" stroke="#383838" stroke-width="1.25" />
<line x1="422.70" y1="214.50" x2="480.50" y2="214.50" stroke="#383838" stroke-width="1.25" />
<line x1="422.70" y1="211.40" x2="422.70" y2="217.60" stroke="#383838" stroke-width="1.25" />
<line x1="480.50" y1="211.40" x2="480.50" y2="217.60" stroke="#383838" stroke-width="1.25" />
<line x1="445.00" y1="210.30" x2="445.00" y2="218.70" stroke="#383838" stroke-width="1.25" />
<line x1="424.40" y1="227.30" x2="484.50" y2="227.30" stroke="#383838" stroke-width="1.25" />
<line x1="424.40" y1="224.20" x2="424.40" y2="230.40" stroke="#383838" stroke-width="1.25" />
<line x1="484.50" y1="224.20" x2="484.50" y2="230.40" stroke="#383838" stroke-width="1.25" />
<line x1="447.90" y1="223.10" x2="447.90" y2="231.50" stroke="#383838" stroke-width="1.25" />
<line x1="413.80" y1="240.00" x2="464.30" y2="240.00" stroke="#383838" stroke-width="1.25" />
<line x1="413.80" y1="236.90" x2="413.80" y2="243.10" stroke="#383838" stroke-width="1.25" />
<line x1="464.30" y1="236.90" x2="464.30" y2="243.10" stroke="#383838" stroke-width="1.25" />
<line x1="432.60" y1="235.80" x2="432.60" y2="244.20" stroke="#383838" stroke-width="1.25" />
<line x1="422.70" y1="252.80" x2="468.90" y2="252.80" stroke="#383838" stroke-width="1.25" />
<line x1="422.70" y1="249.70" x2="422.70" y2="255.90" stroke="#383838" stroke-width="1.25" />
<line x1="468.90" y1="249.70" x2="468.90" y2="255.90" stroke="#383838" stroke-width="1.25" />
<line x1="440.70" y1="248.60" x2="440.70" y2="257.00" stroke="#383838" stroke-width="1.25" />
<line x1="408.40" y1="265.60" x2="449.90" y2="265.60" stroke="#383838" stroke-width="1.25" />
<line x1="408.40" y1="262.50" x2="408.40" y2="268.70" stroke="#383838" stroke-width="1.25" />
<line x1="449.90" y1="262.50" x2="449.90" y2="268.70" stroke="#383838" stroke-width="1.25" />
<line x1="423.90" y1="261.40" x2="423.90" y2="269.80" stroke="#383838" stroke-width="1.25" />
<text x="500.40" y="204.60" font-size="5.6" font-weight="bold" text-anchor="middle" fill="#111" letter-spacing="0.3" stroke="#111" stroke-width="0.15" dy="-0.3">*</text>
<text x="500.40" y="217.50" font-size="5.6" font-weight="bold" text-anchor="middle" fill="#111" letter-spacing="0.3" stroke="#111" stroke-width="0.15" dy="-0.3">**</text>
<text x="500.40" y="230.30" font-size="5.6" font-weight="bold" text-anchor="middle" fill="#111" letter-spacing="0.3" stroke="#111" stroke-width="0.15" dy="-0.3">**</text>
<text x="500.40" y="255.80" font-size="5.6" font-weight="bold" text-anchor="middle" fill="#111" letter-spacing="0.3" stroke="#111" stroke-width="0.15" dy="-0.3">**</text>
<text x="458.50" y="286.40" font-size="6.05" font-weight="bold" text-anchor="middle" fill="#111"  stroke="#111" stroke-width="0.3">Odds of cell forming &gt;2 lamellipodia</text>
<text x="458.50" y="293.20" font-size="6.05" font-weight="bold" text-anchor="middle" fill="#111"  stroke="#111" stroke-width="0.3">relative to WT transduced cells</text>
<line x1="30.00" y1="340.50" x2="30.00" y2="457.40" stroke="#151515" stroke-width="1.0" />
<line x1="28.20" y1="340.50" x2="30.00" y2="340.50" stroke="#151515" stroke-width="1.0" />
<text x="27.80" y="342.05" font-size="4.5" font-weight="bold" text-anchor="end" fill="#111"  stroke="#111" stroke-width="0.34">0.4</text>
<line x1="28.20" y1="369.70" x2="30.00" y2="369.70" stroke="#151515" stroke-width="1.0" />
<text x="27.80" y="371.25" font-size="4.5" font-weight="bold" text-anchor="end" fill="#111"  stroke="#111" stroke-width="0.34">0.3</text>
<line x1="28.20" y1="398.90" x2="30.00" y2="398.90" stroke="#151515" stroke-width="1.0" />
<text x="27.80" y="400.45" font-size="4.5" font-weight="bold" text-anchor="end" fill="#111"  stroke="#111" stroke-width="0.34">0.2</text>
<line x1="28.20" y1="428.20" x2="30.00" y2="428.20" stroke="#151515" stroke-width="1.0" />
<text x="27.80" y="429.75" font-size="4.5" font-weight="bold" text-anchor="end" fill="#111"  stroke="#111" stroke-width="0.34">0.1</text>
<line x1="28.20" y1="457.40" x2="30.00" y2="457.40" stroke="#151515" stroke-width="1.0" />
<text x="27.80" y="458.95" font-size="4.5" font-weight="bold" text-anchor="end" fill="#111"  stroke="#111" stroke-width="0.34">0.0</text>
<line x1="30.00" y1="457.40" x2="147.00" y2="457.40" stroke="#151515" stroke-width="1.0" />
<rect x="33.75" y="377.00" width="13.00" height="80.40" fill="#fff" stroke="#141414" stroke-width="1.05" />
<line x1="40.25" y1="371.75" x2="40.25" y2="377.00" stroke="#1c1c1c" stroke-width="1.2" />
<line x1="37.15" y1="371.75" x2="43.35" y2="371.75" stroke="#1c1c1c" stroke-width="1.2" />
<line x1="40.25" y1="457.40" x2="40.25" y2="458.70" stroke="#151515" stroke-width="0.7" />
<text x="42.25" y="463.70" font-size="6.3" font-weight="bold" text-anchor="end" fill="#111" transform="rotate(-45 42.25 463.7)"  stroke="#111" stroke-width="0.3">WAS</text>
<rect x="53.00" y="374.50" width="12.75" height="82.90" fill="#000" stroke="#141414" stroke-width="1.05" />
<line x1="59.38" y1="370.00" x2="59.38" y2="374.50" stroke="#1c1c1c" stroke-width="1.2" />
<line x1="56.27" y1="370.00" x2="62.48" y2="370.00" stroke="#1c1c1c" stroke-width="1.2" />
<line x1="59.38" y1="457.40" x2="59.38" y2="458.70" stroke="#151515" stroke-width="0.7" />
<text x="61.38" y="463.70" font-size="6.3" font-weight="bold" text-anchor="end" fill="#111" transform="rotate(-45 61.375 463.7)"  stroke="#111" stroke-width="0.3">WT</text>
<rect x="72.20" y="379.50" width="12.90" height="77.90" fill="#666" stroke="#141414" stroke-width="1.05" />
<line x1="78.65" y1="371.75" x2="78.65" y2="379.50" stroke="#1c1c1c" stroke-width="1.2" />
<line x1="75.55" y1="371.75" x2="81.75" y2="371.75" stroke="#1c1c1c" stroke-width="1.2" />
<line x1="78.65" y1="457.40" x2="78.65" y2="458.70" stroke="#151515" stroke-width="0.7" />
<text x="80.65" y="463.70" font-size="6.3" font-weight="bold" text-anchor="end" fill="#111" transform="rotate(-45 80.65 463.7)"  stroke="#111" stroke-width="0.3">T45M</text>
<rect x="91.40" y="382.50" width="12.90" height="74.90" fill="#dcdcdc" stroke="#141414" stroke-width="1.05" />
<line x1="97.85" y1="378.00" x2="97.85" y2="382.50" stroke="#1c1c1c" stroke-width="1.2" />
<line x1="94.75" y1="378.00" x2="100.95" y2="378.00" stroke="#1c1c1c" stroke-width="1.2" />
<line x1="97.85" y1="457.40" x2="97.85" y2="458.70" stroke="#151515" stroke-width="0.7" />
<text x="99.85" y="463.70" font-size="6.3" font-weight="bold" text-anchor="end" fill="#111" transform="rotate(-45 99.85 463.7)"  stroke="#111" stroke-width="0.3">A134T</text>
<rect x="110.70" y="375.50" width="13.00" height="81.90" fill="#e9e9e9" stroke="#141414" stroke-width="1.05" />
<line x1="117.20" y1="370.75" x2="117.20" y2="375.50" stroke="#1c1c1c" stroke-width="1.2" />
<line x1="114.10" y1="370.75" x2="120.30" y2="370.75" stroke="#1c1c1c" stroke-width="1.2" />
<line x1="117.20" y1="457.40" x2="117.20" y2="458.70" stroke="#151515" stroke-width="0.7" />
<text x="119.20" y="463.70" font-size="6.3" font-weight="bold" text-anchor="end" fill="#111" transform="rotate(-45 119.2 463.7)"  stroke="#111" stroke-width="0.3">dEVH1</text>
<rect x="130.00" y="381.60" width="13.50" height="75.80" fill="url(#hatch)" stroke="#141414" stroke-width="1.05" />
<line x1="136.75" y1="378.40" x2="136.75" y2="381.60" stroke="#1c1c1c" stroke-width="1.2" />
<line x1="133.65" y1="378.40" x2="139.85" y2="378.40" stroke="#1c1c1c" stroke-width="1.2" />
<line x1="136.75" y1="457.40" x2="136.75" y2="458.70" stroke="#151515" stroke-width="0.7" />
<text x="138.75" y="463.70" font-size="6.3" font-weight="bold" text-anchor="end" fill="#111" transform="rotate(-45 138.75 463.7)"  stroke="#111" stroke-width="0.3">EGFP</text>
<text x="17.20" y="398.00" font-size="7.1" font-weight="bold" text-anchor="middle" fill="#111" transform="rotate(-90 17.2 398)"  stroke="#111" stroke-width="0.22">Velocity <tspan letter-spacing="0.58">(<tspan font-size="8.2" dx="0.3">μ</tspan><tspan dx="0.5">m/min)</tspan></tspan></text>
<path d="M38.75 347 V344.5 H58.75 V353.3 M60.75 353.3 V344.5 H107.5 V347 M79.5 352.5 L107.5 347 L137.5 353.2" stroke="#151515" stroke-width="1.0" fill="none" stroke-linejoin="miter"/>
<text x="98.75" y="360.40" font-size="5.6" font-weight="bold" text-anchor="middle" fill="#111" letter-spacing="0.3" stroke="#111" stroke-width="0.15" dy="-0.3">*</text>
<text x="136.50" y="360.40" font-size="5.6" font-weight="bold" text-anchor="middle" fill="#111" letter-spacing="0.3" stroke="#111" stroke-width="0.15" dy="-0.3">**</text>
<line x1="208.80" y1="339.30" x2="208.80" y2="455.10" stroke="#151515" stroke-width="1.0" />
<line x1="207.00" y1="339.30" x2="208.80" y2="339.30" stroke="#151515" stroke-width="1.0" />
<text x="206.60" y="340.85" font-size="4.5" font-weight="bold" text-anchor="end" fill="#111"  stroke="#111" stroke-width="0.34">0.12</text>
<line x1="207.00" y1="358.60" x2="208.80" y2="358.60" stroke="#151515" stroke-width="1.0" />
<text x="206.60" y="360.15" font-size="4.5" font-weight="bold" text-anchor="end" fill="#111"  stroke="#111" stroke-width="0.34">0.10</text>
<line x1="207.00" y1="377.90" x2="208.80" y2="377.90" stroke="#151515" stroke-width="1.0" />
<text x="206.60" y="379.45" font-size="4.5" font-weight="bold" text-anchor="end" fill="#111"  stroke="#111" stroke-width="0.34">0.08</text>
<line x1="207.00" y1="397.20" x2="208.80" y2="397.20" stroke="#151515" stroke-width="1.0" />
<text x="206.60" y="398.75" font-size="4.5" font-weight="bold" text-anchor="end" fill="#111"  stroke="#111" stroke-width="0.34">0.06</text>
<line x1="207.00" y1="416.50" x2="208.80" y2="416.50" stroke="#151515" stroke-width="1.0" />
<text x="206.60" y="418.05" font-size="4.5" font-weight="bold" text-anchor="end" fill="#111"  stroke="#111" stroke-width="0.34">0.04</text>
<line x1="207.00" y1="435.80" x2="208.80" y2="435.80" stroke="#151515" stroke-width="1.0" />
<text x="206.60" y="437.35" font-size="4.5" font-weight="bold" text-anchor="end" fill="#111"  stroke="#111" stroke-width="0.34">0.02</text>
<line x1="207.00" y1="455.10" x2="208.80" y2="455.10" stroke="#151515" stroke-width="1.0" />
<text x="206.60" y="456.65" font-size="4.5" font-weight="bold" text-anchor="end" fill="#111"  stroke="#111" stroke-width="0.34">0.00</text>
<line x1="208.80" y1="455.10" x2="323.30" y2="455.10" stroke="#151515" stroke-width="1.0" />
<rect x="211.40" y="402.00" width="13.20" height="53.10" fill="#fff" stroke="#141414" stroke-width="1.05" />
<line x1="218.00" y1="397.00" x2="218.00" y2="402.00" stroke="#1c1c1c" stroke-width="1.2" />
<line x1="214.90" y1="397.00" x2="221.10" y2="397.00" stroke="#1c1c1c" stroke-width="1.2" />
<line x1="218.00" y1="455.10" x2="218.00" y2="456.40" stroke="#151515" stroke-width="0.7" />
<text x="220.00" y="461.40" font-size="6.3" font-weight="bold" text-anchor="end" fill="#111" transform="rotate(-45 220.0 461.40000000000003)"  stroke="#111" stroke-width="0.3">WAS</text>
<rect x="230.80" y="367.50" width="13.20" height="87.60" fill="#000" stroke="#141414" stroke-width="1.05" />
<line x1="237.40" y1="360.70" x2="237.40" y2="367.50" stroke="#1c1c1c" stroke-width="1.2" />
<line x1="234.30" y1="360.70" x2="240.50" y2="360.70" stroke="#1c1c1c" stroke-width="1.2" />
<line x1="237.40" y1="455.10" x2="237.40" y2="456.40" stroke="#151515" stroke-width="0.7" />
<text x="239.40" y="461.40" font-size="6.3" font-weight="bold" text-anchor="end" fill="#111" transform="rotate(-45 239.4 461.40000000000003)"  stroke="#111" stroke-width="0.3">WT</text>
<rect x="250.30" y="376.40" width="12.90" height="78.70" fill="#666" stroke="#141414" stroke-width="1.05" />
<line x1="256.75" y1="365.00" x2="256.75" y2="376.40" stroke="#1c1c1c" stroke-width="1.2" />
<line x1="253.65" y1="365.00" x2="259.85" y2="365.00" stroke="#1c1c1c" stroke-width="1.2" />
<line x1="256.75" y1="455.10" x2="256.75" y2="456.40" stroke="#151515" stroke-width="0.7" />
<text x="258.75" y="461.40" font-size="6.3" font-weight="bold" text-anchor="end" fill="#111" transform="rotate(-45 258.75 461.40000000000003)"  stroke="#111" stroke-width="0.3">T45M</text>
<rect x="269.60" y="386.60" width="13.00" height="68.50" fill="#dcdcdc" stroke="#141414" stroke-width="1.05" />
<line x1="276.10" y1="380.30" x2="276.10" y2="386.60" stroke="#1c1c1c" stroke-width="1.2" />
<line x1="273.00" y1="380.30" x2="279.20" y2="380.30" stroke="#1c1c1c" stroke-width="1.2" />
<line x1="276.10" y1="455.10" x2="276.10" y2="456.40" stroke="#151515" stroke-width="0.7" />
<text x="278.10" y="461.40" font-size="6.3" font-weight="bold" text-anchor="end" fill="#111" transform="rotate(-45 278.1 461.40000000000003)"  stroke="#111" stroke-width="0.3">A134T</text>
<rect x="289.00" y="380.30" width="13.00" height="74.80" fill="#e9e9e9" stroke="#141414" stroke-width="1.05" />
<line x1="295.50" y1="373.40" x2="295.50" y2="380.30" stroke="#1c1c1c" stroke-width="1.2" />
<line x1="292.40" y1="373.40" x2="298.60" y2="373.40" stroke="#1c1c1c" stroke-width="1.2" />
<line x1="295.50" y1="455.10" x2="295.50" y2="456.40" stroke="#151515" stroke-width="0.7" />
<text x="297.50" y="461.40" font-size="6.3" font-weight="bold" text-anchor="end" fill="#111" transform="rotate(-45 297.5 461.40000000000003)"  stroke="#111" stroke-width="0.3">dEVH1</text>
<rect x="308.40" y="405.60" width="13.00" height="49.50" fill="url(#hatch)" stroke="#141414" stroke-width="1.05" />
<line x1="314.90" y1="402.30" x2="314.90" y2="405.60" stroke="#1c1c1c" stroke-width="1.2" />
<line x1="311.80" y1="402.30" x2="318.00" y2="402.30" stroke="#1c1c1c" stroke-width="1.2" />
<line x1="314.90" y1="455.10" x2="314.90" y2="456.40" stroke="#151515" stroke-width="0.7" />
<text x="316.90" y="461.40" font-size="6.3" font-weight="bold" text-anchor="end" fill="#111" transform="rotate(-45 316.9 461.40000000000003)"  stroke="#111" stroke-width="0.3">EGFP</text>
<text x="190.20" y="397.00" font-size="7.1" font-weight="bold" text-anchor="middle" fill="#111" transform="rotate(-90 190.2 397)"  stroke="#111" stroke-width="0.22">displacement rate <tspan letter-spacing="0.58">(<tspan font-size="8.2" dx="0.3">μ</tspan><tspan dx="0.5">m/min)</tspan></tspan></text>
<path d="M217 342.3 V339.7 H236.4 V348.5 M239 348.5 V339.7 H285.6 V342.3 M258.7 347.2 L285.6 342.3 L315 347.2" stroke="#151515" stroke-width="1.0" fill="none" stroke-linejoin="miter"/>
<text x="218.40" y="355.40" font-size="5.6" font-weight="bold" text-anchor="middle" fill="#111" letter-spacing="0.3" stroke="#111" stroke-width="0.15" dy="-0.3">***</text>
<text x="276.00" y="355.40" font-size="5.6" font-weight="bold" text-anchor="middle" fill="#111" letter-spacing="0.3" stroke="#111" stroke-width="0.15" dy="-0.3">***</text>
<text x="295.40" y="355.40" font-size="5.6" font-weight="bold" text-anchor="middle" fill="#111" letter-spacing="0.3" stroke="#111" stroke-width="0.15" dy="-0.3">**</text>
<text x="315.40" y="355.40" font-size="5.6" font-weight="bold" text-anchor="middle" fill="#111" letter-spacing="0.3" stroke="#111" stroke-width="0.15" dy="-0.3">***</text>
<line x1="389.50" y1="339.30" x2="389.50" y2="455.10" stroke="#151515" stroke-width="1.0" />
<line x1="387.70" y1="339.30" x2="389.50" y2="339.30" stroke="#151515" stroke-width="1.0" />
<text x="387.30" y="340.85" font-size="4.5" font-weight="bold" text-anchor="end" fill="#111"  stroke="#111" stroke-width="0.34">0.40</text>
<line x1="387.70" y1="362.50" x2="389.50" y2="362.50" stroke="#151515" stroke-width="1.0" />
<text x="387.30" y="364.05" font-size="4.5" font-weight="bold" text-anchor="end" fill="#111"  stroke="#111" stroke-width="0.34">0.35</text>
<line x1="387.70" y1="385.80" x2="389.50" y2="385.80" stroke="#151515" stroke-width="1.0" />
<text x="387.30" y="387.35" font-size="4.5" font-weight="bold" text-anchor="end" fill="#111"  stroke="#111" stroke-width="0.34">0.30</text>
<line x1="387.70" y1="409.00" x2="389.50" y2="409.00" stroke="#151515" stroke-width="1.0" />
<text x="387.30" y="410.55" font-size="4.5" font-weight="bold" text-anchor="end" fill="#111"  stroke="#111" stroke-width="0.34">0.25</text>
<line x1="387.70" y1="432.30" x2="389.50" y2="432.30" stroke="#151515" stroke-width="1.0" />
<text x="387.30" y="433.85" font-size="4.5" font-weight="bold" text-anchor="end" fill="#111"  stroke="#111" stroke-width="0.34">0.20</text>
<line x1="389.50" y1="455.10" x2="503.30" y2="455.10" stroke="#151515" stroke-width="1.0" />
<rect x="391.80" y="426.20" width="12.80" height="28.90" fill="#fff" stroke="#141414" stroke-width="1.05" />
<line x1="398.20" y1="415.40" x2="398.20" y2="426.20" stroke="#1c1c1c" stroke-width="1.2" />
<line x1="395.10" y1="415.40" x2="401.30" y2="415.40" stroke="#1c1c1c" stroke-width="1.2" />
<line x1="398.20" y1="455.10" x2="398.20" y2="456.40" stroke="#151515" stroke-width="0.7" />
<text x="400.20" y="461.40" font-size="6.3" font-weight="bold" text-anchor="end" fill="#111" transform="rotate(-45 400.20000000000005 461.40000000000003)"  stroke="#111" stroke-width="0.3">WAS</text>
<rect x="411.00" y="374.75" width="13.20" height="80.35" fill="#000" stroke="#141414" stroke-width="1.05" />
<line x1="417.60" y1="361.60" x2="417.60" y2="374.75" stroke="#1c1c1c" stroke-width="1.2" />
<line x1="414.50" y1="361.60" x2="420.70" y2="361.60" stroke="#1c1c1c" stroke-width="1.2" />
<line x1="417.60" y1="455.10" x2="417.60" y2="456.40" stroke="#151515" stroke-width="0.7" />
<text x="419.60" y="461.40" font-size="6.3" font-weight="bold" text-anchor="end" fill="#111" transform="rotate(-45 419.6 461.40000000000003)"  stroke="#111" stroke-width="0.3">WT</text>
<rect x="430.60" y="382.60" width="13.00" height="72.50" fill="#666" stroke="#141414" stroke-width="1.05" />
<line x1="437.10" y1="359.70" x2="437.10" y2="382.60" stroke="#1c1c1c" stroke-width="1.2" />
<line x1="434.00" y1="359.70" x2="440.20" y2="359.70" stroke="#1c1c1c" stroke-width="1.2" />
<line x1="437.10" y1="455.10" x2="437.10" y2="456.40" stroke="#151515" stroke-width="0.7" />
<text x="439.10" y="461.40" font-size="6.3" font-weight="bold" text-anchor="end" fill="#111" transform="rotate(-45 439.1 461.40000000000003)"  stroke="#111" stroke-width="0.3">T45M</text>
<rect x="450.00" y="396.40" width="13.00" height="58.70" fill="#dcdcdc" stroke="#141414" stroke-width="1.05" />
<line x1="456.50" y1="383.00" x2="456.50" y2="396.40" stroke="#1c1c1c" stroke-width="1.2" />
<line x1="453.40" y1="383.00" x2="459.60" y2="383.00" stroke="#1c1c1c" stroke-width="1.2" />
<line x1="456.50" y1="455.10" x2="456.50" y2="456.40" stroke="#151515" stroke-width="0.7" />
<text x="458.50" y="461.40" font-size="6.3" font-weight="bold" text-anchor="end" fill="#111" transform="rotate(-45 458.5 461.40000000000003)"  stroke="#111" stroke-width="0.3">A134T</text>
<rect x="469.20" y="395.70" width="13.00" height="59.40" fill="#e9e9e9" stroke="#141414" stroke-width="1.05" />
<line x1="475.70" y1="383.00" x2="475.70" y2="395.70" stroke="#1c1c1c" stroke-width="1.2" />
<line x1="472.60" y1="383.00" x2="478.80" y2="383.00" stroke="#1c1c1c" stroke-width="1.2" />
<line x1="475.70" y1="455.10" x2="475.70" y2="456.40" stroke="#151515" stroke-width="0.7" />
<text x="477.70" y="461.40" font-size="6.3" font-weight="bold" text-anchor="end" fill="#111" transform="rotate(-45 477.7 461.40000000000003)"  stroke="#111" stroke-width="0.3">dEVH1</text>
<rect x="488.50" y="433.80" width="12.90" height="21.30" fill="url(#hatch)" stroke="#141414" stroke-width="1.05" />
<line x1="494.95" y1="426.90" x2="494.95" y2="433.80" stroke="#1c1c1c" stroke-width="1.2" />
<line x1="491.85" y1="426.90" x2="498.05" y2="426.90" stroke="#1c1c1c" stroke-width="1.2" />
<line x1="494.95" y1="455.10" x2="494.95" y2="456.40" stroke="#151515" stroke-width="0.7" />
<text x="496.95" y="461.40" font-size="6.3" font-weight="bold" text-anchor="end" fill="#111" transform="rotate(-45 496.95 461.40000000000003)"  stroke="#111" stroke-width="0.3">EGFP</text>
<text x="372.70" y="396.70" font-size="7.5" font-weight="bold" text-anchor="middle" fill="#111" transform="rotate(-90 372.7 396.7)"  stroke="#111" stroke-width="0.22">persistence of migration</text>
<path d="M397.7 342.3 V339.7 H416.7 V348.5 M419.7 348.5 V339.7 H466 V342.3 M438.7 347.4 L466 342.3 L496.3 347.6" stroke="#151515" stroke-width="1.0" fill="none" stroke-linejoin="miter"/>
<text x="399.30" y="355.40" font-size="5.6" font-weight="bold" text-anchor="middle" fill="#111" letter-spacing="0.3" stroke="#111" stroke-width="0.15" dy="-0.3">***</text>
<text x="456.70" y="355.40" font-size="5.6" font-weight="bold" text-anchor="middle" fill="#111" letter-spacing="0.3" stroke="#111" stroke-width="0.15" dy="-0.3">*</text>
<text x="475.40" y="355.40" font-size="5.6" font-weight="bold" text-anchor="middle" fill="#111" letter-spacing="0.3" stroke="#111" stroke-width="0.15" dy="-0.3">*</text>
<text x="496.70" y="355.40" font-size="5.6" font-weight="bold" text-anchor="middle" fill="#111" letter-spacing="0.3" stroke="#111" stroke-width="0.15" dy="-0.3">***</text>
</svg></body></html>
